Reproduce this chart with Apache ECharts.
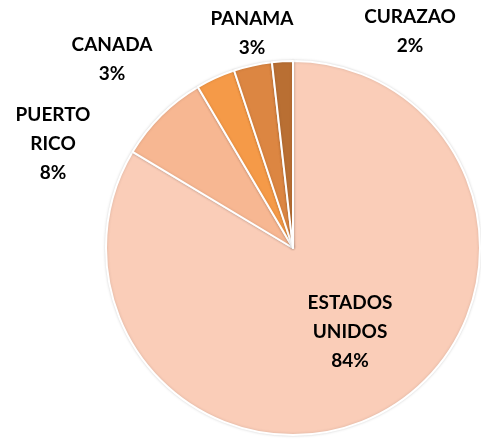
<!DOCTYPE html>
<html>
<head>
<meta charset="utf-8">
<script src="https://cdn.jsdelivr.net/npm/echarts@6/dist/echarts.min.js"></script>
<style>
  html, body { margin: 0; padding: 0; background: #fff; }
  #chart { width: 481px; height: 439px; }
</style>
</head>
<body>
<div id="chart"></div>
<script>
// data (share of total)
const paises = ['ESTADOS UNIDOS', 'PUERTO RICO', 'CANADA', 'PANAMA', 'CURAZAO'];
const valores = [83.6, 7.9, 3.4, 3.3, 1.8];
const colores = ['#FACDB8', '#F7B792', '#F59A48', '#DC8642', '#B96F33'];

// where each label sits (centre of text block)
const labelPos = [
  [350, 332],
  [53, 144],
  [112, 59],
  [252, 33],
  [410, 31]
];

let chart = echarts.init(document.getElementById('chart'));

let seriesData = [];
for (let i = 0; i < paises.length; i++) {
  seriesData.push({
    name: paises[i],
    value: valores[i],
    itemStyle: { color: colores[i] }
  });
}

let option = {
  animation: false,
  series: [{
    type: 'pie',
    center: [293, 248],
    radius: 187,
    startAngle: 90,
    clockwise: true,
    percentPrecision: 0,
    data: seriesData,
    itemStyle: {
      borderColor: '#ffffff',
      borderWidth: 2,
      shadowBlur: 3,
      shadowColor: 'rgba(0,0,0,0.15)'
    },
    label: {
      show: true,
      position: 'outside',
      formatter: function (p) {
        return p.name.replace(' ', '\n') + '\n' + p.percent + '%';
      },
      fontFamily: 'Lato',
      fontWeight: 'bold',
      fontSize: 19,
      lineHeight: 29,
      color: '#000',
      align: 'center',
      overflow: 'none'
    },
    labelLine: { show: false },
    labelLayout: function (params) {
      let p = labelPos[params.dataIndex];
      return {
        x: p[0],
        y: p[1],
        width: 200,
        align: 'center',
        verticalAlign: 'middle'
      };
    }
  }]
};

chart.setOption(option);
</script>
</body>
</html>
